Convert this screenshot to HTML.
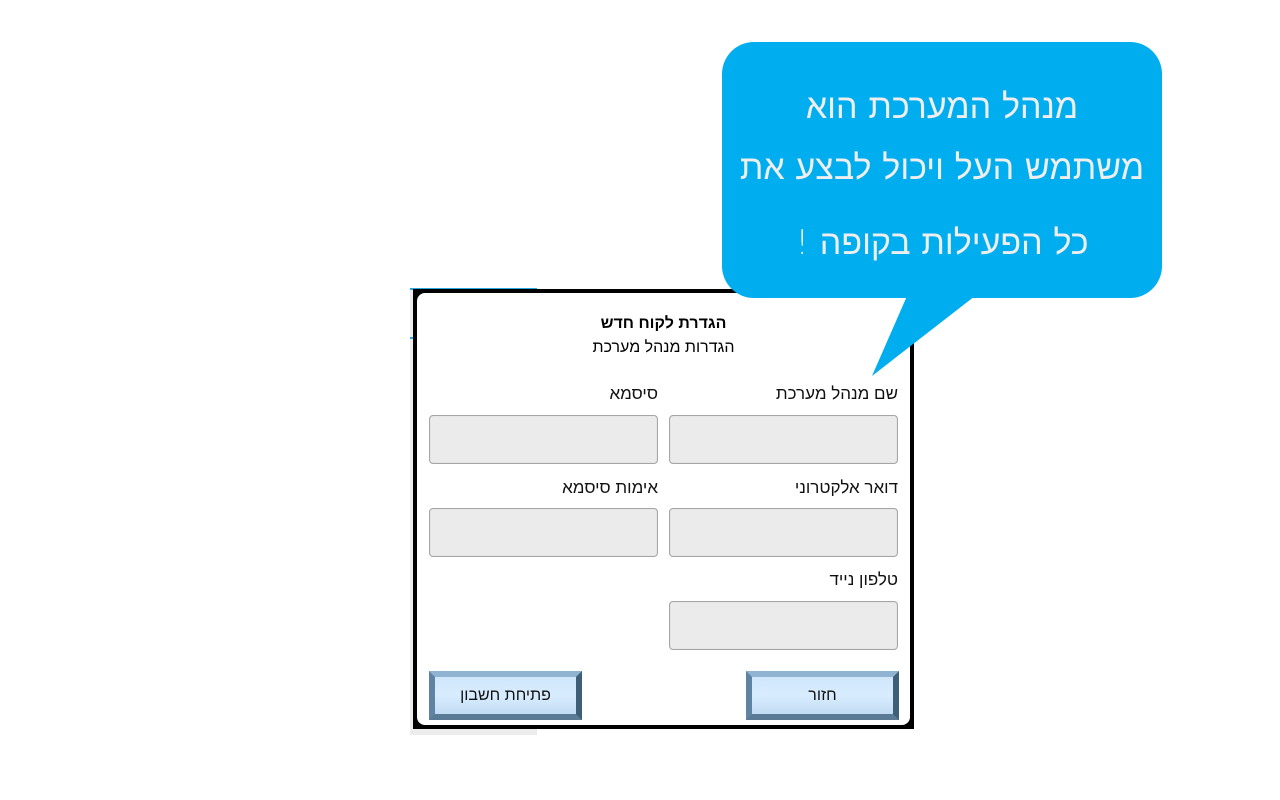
<!DOCTYPE html>
<html><head><meta charset="utf-8"><style>
html,body{margin:0;padding:0;width:1280px;height:800px;background:#fff;overflow:hidden;font-family:"Liberation Sans","Noto Sans CJK SC",sans-serif;}
.a{position:absolute}
.inp{position:absolute;width:227px;height:47px;background:#ebebeb;border:1px solid #a5a5a5;border-radius:4px;box-shadow:inset 0 0 1px #ccc}
.lbl{position:absolute;font-size:17px;color:#111;direction:rtl;text-align:right;width:229px}
.btn{position:absolute;width:153px;height:49px;box-sizing:border-box;border-style:solid;border-width:6px;border-color:#8fb3d0 #3f5f78 #5a7a95 #5f84a3;background:linear-gradient(#cfe6fa,#d8ecff 50%,#c3dcf2);font-size:16px;color:#111;text-align:center;line-height:37px;direction:rtl}
.bt{position:absolute;left:722px;width:440px;text-align:center;color:#eeeeee;font-size:34px;direction:rtl;font-family:"DejaVu Sans","Liberation Sans",sans-serif;font-weight:300}
</style></head><body>
<div class="a" style="left:410px;top:288px;width:127px;height:447px;background:#ececec"></div>
<div class="a" style="left:410px;top:288px;width:127px;height:2px;background:#29a8e0"></div>
<div class="a" style="left:410px;top:337px;width:127px;height:2px;background:#29a8e0"></div>
<div class="a" style="left:413px;top:289px;width:501px;height:440px;background:#000"></div>
<div class="a" style="left:417px;top:293px;width:493px;height:432px;background:#fff;border-radius:8px"></div>
<div class="a" style="left:417px;top:315px;width:493px;text-align:center;font-weight:bold;font-size:16px;direction:rtl">הגדרת לקוח חדש</div>
<div class="a" style="left:417px;top:339px;width:493px;text-align:center;font-size:16px;direction:rtl">הגדרות מנהל מערכת</div>
<div class="lbl" style="left:669px;top:384px">שם מנהל מערכת</div>
<div class="lbl" style="left:429px;top:384px">סיסמא</div>
<div class="inp" style="left:669px;top:415px"></div>
<div class="inp" style="left:429px;top:415px"></div>
<div class="lbl" style="left:669px;top:478px">דואר אלקטרוני</div>
<div class="lbl" style="left:429px;top:478px">אימות סיסמא</div>
<div class="inp" style="left:669px;top:508px"></div>
<div class="inp" style="left:429px;top:508px"></div>
<div class="lbl" style="left:669px;top:570px">טלפון נייד</div>
<div class="inp" style="left:669px;top:601px"></div>
<div class="btn" style="left:746px;top:671px">חזור</div>
<div class="btn" style="left:429px;top:671px">פתיחת חשבון</div>
<div class="a" style="left:722px;top:42px;width:440px;height:256px;background:#00adef;border-radius:32px"></div>
<svg class="a" style="left:0;top:0" width="1280" height="800"><polygon points="907,296 975,296 872,376" fill="#00adef"/></svg>
<div class="bt" style="top:87px">מנהל המערכת הוא</div>
<div class="bt" style="top:148px">משתמש העל ויכול לבצע את</div>
<div class="bt" style="top:223px">כל הפעילות בקופה !</div>
</body></html>
